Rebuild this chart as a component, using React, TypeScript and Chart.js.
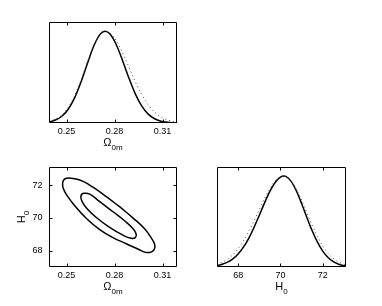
import React, { useEffect, useRef } from 'react';
import { Chart, registerables } from 'chart.js';

Chart.register(...registerables);

// ---------- data ----------
const OMEGA_TICKS = [0.25, 0.28, 0.31];
const H0_TICKS = [68, 70, 72];

const OMEGA_GRID = [0.239, 0.243, 0.247, 0.251, 0.255, 0.259, 0.263, 0.267, 0.271, 0.274, 0.277, 0.281, 0.285, 0.289, 0.293, 0.297, 0.301, 0.305, 0.309, 0.313, 0.317, 0.319];
const OMEGA_POSTERIOR = [0.012, 0.032, 0.073, 0.150, 0.273, 0.446, 0.648, 0.839, 0.968, 1.0, 0.972, 0.855, 0.679, 0.487, 0.315, 0.184, 0.097, 0.046, 0.020, 0.008, 0.003, 0.002];
const OMEGA_LIKELIHOOD = [0.016, 0.040, 0.086, 0.169, 0.297, 0.470, 0.666, 0.848, 0.970, 1.0, 0.980, 0.897, 0.764, 0.607, 0.448, 0.309, 0.198, 0.118, 0.066, 0.034, 0.016, 0.011];

const H0_GRID = [67.0, 67.25, 67.5, 67.75, 68.0, 68.25, 68.5, 68.75, 69.0, 69.25, 69.5, 69.75, 70.0, 70.17, 70.25, 70.5, 70.75, 71.0, 71.25, 71.5, 71.75, 72.0, 72.25, 72.5, 72.75, 73.0, 73.1];
const H0_POSTERIOR = [0.016, 0.030, 0.053, 0.089, 0.143, 0.218, 0.316, 0.435, 0.568, 0.705, 0.831, 0.930, 0.988, 1.0, 0.997, 0.945, 0.839, 0.699, 0.545, 0.398, 0.273, 0.175, 0.105, 0.059, 0.031, 0.015, 0.012];
const H0_LIKELIHOOD = [0.032, 0.054, 0.087, 0.135, 0.201, 0.286, 0.389, 0.506, 0.632, 0.755, 0.864, 0.946, 0.992, 1.0, 0.996, 0.949, 0.857, 0.734, 0.595, 0.458, 0.334, 0.231, 0.151, 0.094, 0.055, 0.031, 0.026];

// 2D confidence contours (Omega_0m, H0)
const OUTER_OMEGA = [0.2831, 0.2914, 0.2986, 0.3028, 0.3051, 0.3048, 0.3028, 0.2997, 0.2955, 0.2873, 0.2790, 0.2707, 0.2624, 0.2552, 0.2500, 0.2479, 0.2475, 0.2483, 0.2500, 0.2552, 0.2603, 0.2665, 0.2748, 0.2831];
const OUTER_H0 = [70.68, 70.00, 69.35, 68.79, 68.36, 68.07, 67.91, 67.89, 68.05, 68.42, 68.79, 69.28, 69.96, 70.72, 71.40, 71.81, 72.11, 72.32, 72.42, 72.38, 72.22, 71.87, 71.29, 70.68];
const INNER_OMEGA = [0.2790, 0.2862, 0.2914, 0.2935, 0.2929, 0.2904, 0.2852, 0.2769, 0.2686, 0.2628, 0.2597, 0.2589, 0.2597, 0.2609, 0.2645, 0.2707, 0.2790];
const INNER_H0 = [70.37, 69.82, 69.35, 69.00, 68.79, 68.75, 68.94, 69.41, 70.02, 70.56, 70.99, 71.29, 71.46, 71.50, 71.44, 70.99, 70.37];

const OMEGA_RANGE = [0.239, 0.319];
const H0_RANGE = [67, 73.1];
const DENSITY_RANGE = [0, 1.1];

// ---------- helpers ----------
const FONT = '"Liberation Sans", Arial, Helvetica, sans-serif';
const W = 382;
const H = 306;

const pts = (xs: number[], ys: number[]) => xs.map((x, i) => ({ x, y: ys[i] }));

function axisX(range: number[], ticks: number[], fmt: (v: number) => string, height: number) {
  return {
    type: 'linear',
    position: 'bottom',
    min: range[0],
    max: range[1],
    afterBuildTicks: (s: any) => { s.ticks = ticks.map((v) => ({ value: v })); },
    afterFit: (s: any) => { s.height = height; },
    grid: { display: false, drawTicks: false },
    border: { display: false },
    ticks: {
      padding: 3,
      color: '#000',
      font: { family: FONT, size: 9 },
      maxRotation: 0,
      autoSkip: false,
      callback: (v: any) => fmt(Number(v)),
    },
  };
}

function axisYHidden(range: number[]) {
  return { type: 'linear', display: false, min: range[0], max: range[1] };
}

type FrameCfg = {
  xTicks: number[];
  yTicks: number[];
  xTitle: [string, string];
  yTitle?: [string, string];
};

function makeFrame(cfg: FrameCfg) {
  return {
    id: 'frame',
    afterDraw(chart: any) {
      const { ctx, chartArea: a, scales } = chart;
      ctx.save();
      ctx.strokeStyle = '#000';
      ctx.lineWidth = 1;
      const L = a.left + 0.5, R = a.right - 0.5, T = a.top + 0.5, B = a.bottom - 0.5;
      ctx.beginPath();
      ctx.rect(L, T, R - L, B - T);
      ctx.stroke();
      const tl = 3;
      ctx.beginPath();
      cfg.xTicks.forEach((v) => {
        const px = Math.round(scales.x.getPixelForValue(v)) + 0.5;
        ctx.moveTo(px, B); ctx.lineTo(px, B - tl);
        ctx.moveTo(px, T); ctx.lineTo(px, T + tl);
      });
      cfg.yTicks.forEach((v) => {
        const py = Math.round(scales.y.getPixelForValue(v)) + 0.5;
        ctx.moveTo(L, py); ctx.lineTo(L + tl, py);
        ctx.moveTo(R, py); ctx.lineTo(R - tl, py);
      });
      ctx.stroke();

      ctx.fillStyle = '#000';
      ctx.textBaseline = 'alphabetic';
      ctx.textAlign = 'left';
      const mainFont = `11px ${FONT}`;
      const subFont = `8px ${FONT}`;
      // x title
      {
        const [m, s] = cfg.xTitle;
        ctx.font = mainFont; const wm = ctx.measureText(m).width;
        ctx.font = subFont; const ws = ctx.measureText(s).width;
        const x0 = (a.left + a.right) / 2 - (wm + ws) / 2;
        const base = a.bottom + 23;
        ctx.font = mainFont; ctx.fillText(m, x0, base);
        ctx.font = subFont; ctx.fillText(s, x0 + wm, base + 4);
      }
      if (cfg.yTitle) {
        const [m, s] = cfg.yTitle;
        ctx.font = mainFont; const wm = ctx.measureText(m).width;
        ctx.font = subFont; const ws = ctx.measureText(s).width;
        ctx.translate(25, (a.top + a.bottom) / 2);
        ctx.rotate(-Math.PI / 2);
        const x0 = -(wm + ws) / 2;
        ctx.font = mainFont; ctx.fillText(m, x0, 0);
        ctx.font = subFont; ctx.fillText(s, x0 + wm, 4);
      }
      ctx.restore();
    },
  };
}

const solid = (data: any[]) => ({
  data,
  borderColor: '#000',
  borderWidth: 1.5,
  pointRadius: 0,
  cubicInterpolationMode: 'monotone',
  fill: false,
});
const dotted = (data: any[]) => ({
  data,
  borderColor: '#444',
  borderWidth: 1,
  borderDash: [1, 3],
  pointRadius: 0,
  cubicInterpolationMode: 'monotone',
  fill: false,
});
const contour = (data: any[]) => ({
  data,
  borderColor: '#000',
  borderWidth: 1.5,
  pointRadius: 0,
  tension: 0.45,
  fill: false,
});

const baseOptions = (padding: any, scales: any) => ({
  responsive: false,
  maintainAspectRatio: false,
  devicePixelRatio: 1,
  animation: false,
  events: [],
  layout: { padding },
  plugins: { legend: { display: false }, tooltip: { enabled: false } },
  scales,
});

const fmtOmega = (v: number) => v.toFixed(2);
const fmtH0 = (v: number) => String(Math.round(v));

// Panel A: Omega_0m marginal
const buildA = () => ({
  type: 'line',
  data: { datasets: [dotted(pts(OMEGA_GRID, OMEGA_LIKELIHOOD)), solid(pts(OMEGA_GRID, OMEGA_POSTERIOR))] },
  options: baseOptions(
    { left: 49, top: 22, right: W - 177, bottom: 0 },
    { x: axisX(OMEGA_RANGE, OMEGA_TICKS, fmtOmega, H - 123), y: axisYHidden(DENSITY_RANGE) }
  ),
  plugins: [makeFrame({ xTicks: OMEGA_TICKS, yTicks: [], xTitle: ['Ω', '0m'] })],
});

// Panel B: 2D contours
const buildB = () => ({
  type: 'line',
  data: { datasets: [contour(pts(OUTER_OMEGA, OUTER_H0)), contour(pts(INNER_OMEGA, INNER_H0))] },
  options: baseOptions(
    { left: 0, top: 167, right: W - 177, bottom: 0 },
    {
      x: axisX(OMEGA_RANGE, OMEGA_TICKS, fmtOmega, H - 267),
      y: {
        type: 'linear',
        position: 'left',
        min: H0_RANGE[0],
        max: H0_RANGE[1],
        afterBuildTicks: (s: any) => { s.ticks = H0_TICKS.map((v) => ({ value: v })); },
        afterFit: (s: any) => { s.width = 49; },
        grid: { display: false, drawTicks: false },
        border: { display: false },
        ticks: { padding: 6.5, color: '#000', font: { family: FONT, size: 9 }, autoSkip: false, callback: (v: any) => fmtH0(Number(v)) },
      },
    }
  ),
  plugins: [makeFrame({ xTicks: OMEGA_TICKS, yTicks: H0_TICKS, xTitle: ['Ω', '0m'], yTitle: ['H', '0'] })],
});

// Panel C: H0 marginal
const buildC = () => ({
  type: 'line',
  data: { datasets: [dotted(pts(H0_GRID, H0_LIKELIHOOD)), solid(pts(H0_GRID, H0_POSTERIOR))] },
  options: baseOptions(
    { left: 217, top: 167, right: W - 346, bottom: 0 },
    { x: axisX(H0_RANGE, H0_TICKS, fmtH0, H - 267), y: axisYHidden(DENSITY_RANGE) }
  ),
  plugins: [makeFrame({ xTicks: H0_TICKS, yTicks: [], xTitle: ['H', '0'] })],
});

function Panel({ build }: { build: () => any }) {
  const ref = useRef<HTMLCanvasElement>(null);
  useEffect(() => {
    const chart = new Chart(ref.current as HTMLCanvasElement, build());
    return () => chart.destroy();
  }, [build]);
  return (
    <canvas
      ref={ref}
      width={W}
      height={H}
      style={{ position: 'absolute', left: 0, top: 0, width: W, height: H }}
    />
  );
}

export default function App() {
  return (
    <div style={{ position: 'absolute', left: 0, top: 0, width: W, height: H, background: '#fff' }}>
      <Panel build={buildA} />
      <Panel build={buildB} />
      <Panel build={buildC} />
    </div>
  );
}
